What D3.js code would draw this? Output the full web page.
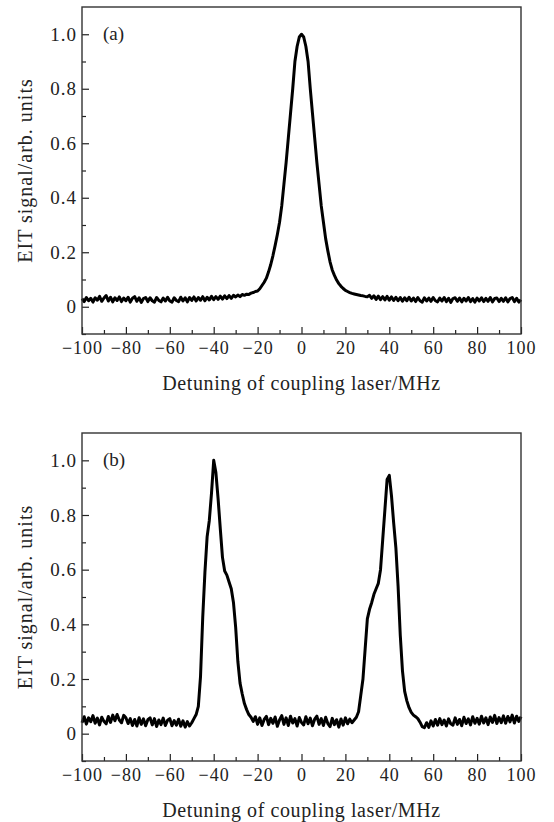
<!DOCTYPE html>
<html>
<head>
<meta charset="utf-8">
<script src="https://cdn.jsdelivr.net/npm/d3@7"></script>
<style>
    body { margin: 0; background: #fff; }
</style>
</head>
<body>
<script>
//detuning axis in MHz, one sample per MHz
var detuning = d3.range(-100, 101, 1);

//panel (a): single EIT peak
var signalA = [
    0.030,0.019,0.034,0.022,0.031,0.017,0.033,0.024,0.038,0.020,
    0.032,0.041,0.021,0.035,0.018,0.033,0.023,0.036,0.019,0.032,
    0.022,0.035,0.017,0.031,0.037,0.020,0.033,0.016,0.030,0.034,
    0.019,0.033,0.022,0.017,0.034,0.023,0.018,0.032,0.021,0.035,
    0.021,0.017,0.033,0.023,0.019,0.035,0.021,0.033,0.018,0.034,
    0.023,0.036,0.021,0.034,0.024,0.037,0.022,0.035,0.025,0.038,
    0.026,0.037,0.027,0.039,0.028,0.040,0.030,0.041,0.031,0.042,
    0.036,0.043,0.037,0.045,0.042,0.046,0.045,0.050,0.052,0.056,
    0.058,0.066,0.078,0.090,0.105,0.128,0.155,0.188,0.225,0.265,
    0.31,0.37,0.45,0.53,0.62,0.71,0.80,0.90,0.955,0.99,
    1.0,
    0.99,0.955,0.90,0.80,0.71,0.62,0.53,0.45,0.37,0.31,
    0.25,0.205,0.165,0.135,0.115,0.098,0.085,0.075,0.067,0.060,
    0.056,0.052,0.049,0.047,0.045,0.043,0.041,0.040,0.038,0.037,
    0.042,0.031,0.040,0.027,0.039,0.026,0.037,0.025,0.038,0.024,
    0.036,0.023,0.035,0.022,0.034,0.020,0.033,0.022,0.035,0.021,
    0.032,0.019,0.034,0.022,0.017,0.033,0.021,0.032,0.020,0.034,
    0.022,0.018,0.032,0.021,0.034,0.019,0.031,0.016,0.030,0.033,
    0.020,0.032,0.018,0.031,0.021,0.034,0.019,0.030,0.017,0.032,
    0.021,0.033,0.019,0.031,0.020,0.034,0.018,0.030,0.032,0.019,
    0.031,0.020,0.033,0.018,0.030,0.034,0.019,0.031,0.017,0.026
];

//panel (b): two peaks with shoulders
var signalB = [
    0.040,0.062,0.035,0.058,0.044,0.066,0.038,0.057,0.032,0.060,
    0.045,0.036,0.063,0.041,0.068,0.047,0.070,0.050,0.040,0.067,
    0.058,0.037,0.055,0.030,0.052,0.028,0.058,0.034,0.054,0.029,
    0.051,0.058,0.032,0.055,0.026,0.050,0.033,0.057,0.030,0.049,
    0.055,0.029,0.048,0.031,0.053,0.027,0.047,0.024,0.044,0.028,
    0.040,0.055,0.070,0.100,0.210,0.425,0.590,0.720,0.780,0.880,
    1.000,0.955,0.860,0.750,0.645,0.595,0.580,0.555,0.530,0.480,
    0.390,0.265,0.185,0.145,0.110,0.088,0.070,0.060,0.045,0.062,
    0.034,0.058,0.030,0.052,0.063,0.033,0.056,0.038,0.061,0.027,
    0.050,0.066,0.034,0.058,0.030,0.064,0.039,0.055,0.028,0.059,
    0.041,0.032,0.062,0.036,0.057,0.029,0.053,0.064,0.034,0.055,
    0.030,0.060,0.037,0.026,0.056,0.033,0.051,0.024,0.054,0.031,
    0.058,0.036,0.053,0.040,0.050,0.060,0.080,0.140,0.200,0.310,
    0.420,0.455,0.480,0.510,0.530,0.550,0.600,0.710,0.820,0.930,
    0.945,0.870,0.770,0.680,0.540,0.360,0.230,0.155,0.120,0.095,
    0.078,0.068,0.062,0.055,0.042,0.026,0.022,0.040,0.023,0.047,
    0.028,0.052,0.031,0.055,0.033,0.050,0.028,0.054,0.036,0.031,
    0.058,0.034,0.052,0.029,0.060,0.037,0.054,0.032,0.062,0.038,
    0.056,0.035,0.064,0.039,0.058,0.033,0.061,0.041,0.067,0.037,
    0.059,0.040,0.065,0.038,0.063,0.043,0.068,0.039,0.064,0.045,
    0.062
];

var xMajor = [-100, -80, -60, -40, -20, 0, 20, 40, 60, 80, 100];
var yMajor = [0, 0.2, 0.4, 0.6, 0.8, 1.0];
var yLabels = ["0", "0.2", "0.4", "0.6", "0.8", "1.0"];
var panelNames = ["(a)", "(b)"];

var font = "Liberation Serif";

var width = 554;
var height = 822;

var svg = d3.select("body").append("svg")
    .attr("width", width)
    .attr("height", height);

var x = d3.scaleLinear()
    .domain([-100, 100])
    .range([82, 521]);

function drawPanel(values, top, bottom, name) {
    var y = d3.scaleLinear()
        .domain([-0.1, 1.1])
        .range([bottom, top]);

    var g = svg.append("g");

    //minor ticks
    g.append("g")
        .attr("transform", `translate(0,${bottom})`)
        .call(d3.axisBottom(x).tickValues(d3.range(-90, 100, 20)).tickSize(-4).tickFormat(""))
        .call(g => g.select(".domain").remove());
    g.append("g")
        .attr("transform", `translate(82,0)`)
        .call(d3.axisLeft(y).tickValues([-0.1, 0.1, 0.3, 0.5, 0.7, 0.9]).tickSize(-4).tickFormat(""))
        .call(g => g.select(".domain").remove());

    //major ticks with labels
    g.append("g")
        .attr("transform", `translate(0,${bottom})`)
        .call(d3.axisBottom(x).tickValues(xMajor).tickSize(-7).tickPadding(7).tickFormat(d3.format("d")))
        .call(g => g.select(".domain").remove())
        .call(g => g.selectAll("text").attr("font-family", font).attr("font-size", 18).attr("letter-spacing", 1).attr("fill", "#222"));
    g.append("g")
        .attr("transform", `translate(82,0)`)
        .call(d3.axisLeft(y).tickValues(yMajor).tickSize(-7).tickPadding(5).tickFormat((d, i) => yLabels[i]))
        .call(g => g.select(".domain").remove())
        .call(g => g.selectAll("text").attr("font-family", font).attr("font-size", 19).attr("letter-spacing", 1).attr("fill", "#222"));

    g.selectAll(".tick line").attr("stroke", "#222").attr("stroke-width", 1.2);

    //the signal
    var line = d3.line()
        .x((d, i) => x(detuning[i]))
        .y(d => y(d));

    g.append("path")
        .datum(values)
        .attr("fill", "none")
        .attr("stroke", "#000")
        .attr("stroke-width", 3)
        .attr("stroke-linejoin", "round")
        .attr("d", line);

    //frame
    g.append("rect")
        .attr("x", 82)
        .attr("y", top)
        .attr("width", 521 - 82)
        .attr("height", bottom - top)
        .attr("fill", "none")
        .attr("stroke", "#333")
        .attr("stroke-width", 1.4);

    //panel name
    g.append("text")
        .attr("x", 103)
        .attr("y", y(1.0) + 6)
        .attr("font-family", font)
        .attr("font-size", 19)
        .attr("fill", "#222")
        .text(name);

    //axis titles
    g.append("text")
        .attr("transform", `translate(32,${(top + bottom) / 2}) rotate(-90)`)
        .attr("text-anchor", "middle")
        .attr("font-family", font)
        .attr("font-size", 20)
        .attr("letter-spacing", 1)
        .attr("fill", "#222")
        .text("EIT signal/arb. units");

    g.append("text")
        .attr("x", 301.5)
        .attr("y", bottom + 56)
        .attr("text-anchor", "middle")
        .attr("font-family", font)
        .attr("font-size", 20)
        .attr("letter-spacing", 0.6)
        .attr("fill", "#222")
        .text("Detuning of coupling laser/MHz");
}

drawPanel(signalA, 7, 334, panelNames[0]);
drawPanel(signalB, 433, 761, panelNames[1]);
</script>
</body>
</html>
